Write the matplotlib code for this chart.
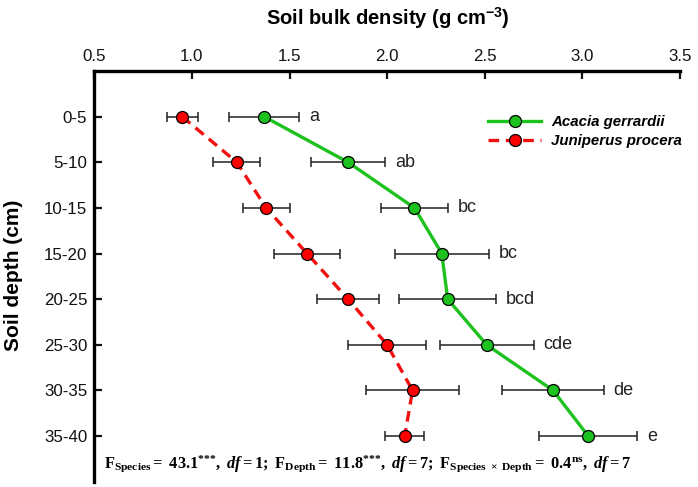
import matplotlib
matplotlib.use("Agg")
import matplotlib.pyplot as plt

plt.rcParams['font.family'] = ['Liberation Sans', 'DejaVu Sans']
plt.rcParams['mathtext.fontset'] = 'custom'
plt.rcParams['mathtext.rm'] = 'Liberation Serif:bold'
plt.rcParams['mathtext.it'] = 'Liberation Serif:italic:bold'
plt.rcParams['mathtext.bf'] = 'Liberation Serif:bold'
plt.rcParams['mathtext.sf'] = 'Liberation Sans:bold'

# data
depths = ['0-5', '5-10', '10-15', '15-20', '20-25', '25-30', '30-35', '35-40']
acacia = [1.37, 1.80, 2.14, 2.28, 2.31, 2.51, 2.85, 3.03]
acacia_err = [0.18, 0.19, 0.17, 0.24, 0.25, 0.24, 0.26, 0.25]
juniperus = [0.95, 1.23, 1.38, 1.59, 1.80, 2.00, 2.13, 2.09]
juniperus_err = [0.08, 0.12, 0.12, 0.17, 0.16, 0.20, 0.24, 0.10]
letters = ['a', 'ab', 'bc', 'bc', 'bcd', 'cde', 'de', 'e']

fig = plt.figure(figsize=(6.98, 4.87), dpi=100)
ax = fig.add_axes([0.1351, 0.0109, 0.8391, 0.8433])

ypos = list(range(len(depths)))

ax.errorbar(acacia, ypos, xerr=acacia_err, fmt='none', ecolor='#222222',
            elinewidth=1.1, capsize=3.6, capthick=1.1, zorder=2)
ax.errorbar(juniperus, ypos, xerr=juniperus_err, fmt='none', ecolor='#222222',
            elinewidth=1.1, capsize=3.6, capthick=1.1, zorder=2)

ax.plot(acacia, ypos, '-', color='#1ec21e', lw=2.4, marker='o', ms=8.6,
        mfc='#1ec21e', mec='black', mew=0.9, zorder=3, label='Acacia gerrardii')
ax.plot(juniperus, ypos, '--', color='#f01010', lw=2.4, dashes=(3.2, 2.0),
        marker='o', ms=8.6, mfc='#ff0000', mec='black', mew=0.9, zorder=3,
        label='Juniperus procera')

for x, e, y, s in zip(acacia, acacia_err, ypos, letters):
    ax.text(x + e + 0.05, y, s, ha='left', va='center', fontsize=13,
            color='#222222')

ax.set_xlim(0.5, 3.5)
ax.set_ylim(8, -1)
ax.set_xticks([0.5, 1.0, 1.5, 2.0, 2.5, 3.0, 3.5])
ax.set_xticklabels(['0.5', '1.0', '1.5', '2.0', '2.5', '3.0', '3.5'])
ax.set_yticks(ypos)
ax.set_yticklabels(depths)
ax.xaxis.tick_top()
ax.tick_params(axis='both', direction='in', length=6, width=1.6,
               labelsize=12.2, pad=5, colors='#111111')
ax.tick_params(axis='x', pad=5)

for side in ['right', 'bottom']:
    ax.spines[side].set_visible(False)
for side in ['top', 'left']:
    ax.spines[side].set_linewidth(2.4)

fig.text(0.556, 0.963, r'Soil bulk density (g cm$^{\mathsf{-3}}$)',
         ha='center', va='center', fontsize=14.5, fontweight='bold')
fig.text(0.019, 0.435, 'Soil depth (cm)', ha='center', va='center',
         rotation=90, fontsize=15, fontweight='bold')

leg = ax.legend(loc='upper left', bbox_to_anchor=(0.66, 0.91), frameon=False,
                handlelength=3.5, handletextpad=0.7, labelspacing=0.3,
                borderpad=0, prop={'weight': 'bold', 'style': 'italic',
                                   'size': 10.8})

ax.text(0.017, 0.045,
        r'$\mathrm{F_{Species}=\ 43.1^{{*}{*}{*}},\ }\mathit{df}\mathrm{=1;\ '
        r'F_{Depth}=\ 11.8^{{*}{*}{*}},\ }\mathit{df}\mathrm{=7;\ '
        r'F_{Species\ \times\ Depth}=\ 0.4^{ns},\ }\mathit{df}\mathrm{=7}$',
        transform=ax.transAxes, ha='left', va='center', fontsize=11.8)

fig.savefig('out.png', dpi=100)
